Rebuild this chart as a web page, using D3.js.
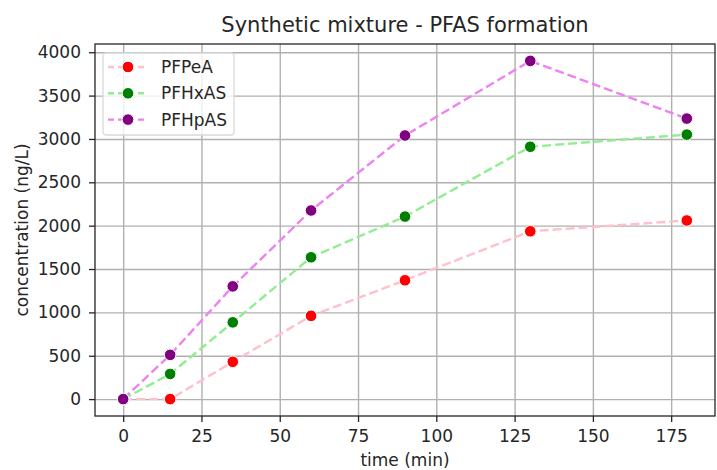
<!DOCTYPE html>
<html>
<head>
<meta charset="utf-8" />
<style>
  body { margin: 0; background: #fff; }
  text { font-family: 'DejaVu Sans', sans-serif; fill: #262626; }
  .grid line { stroke: #b0b0b0; stroke-width: 1.4; }
  .grid path { stroke-width: 0; }
  .axis path, .axis line { stroke: #262626; stroke-width: 1.3; }
  .axis text { font-size: 17px; fill: #262626; }
</style>
</head>
<body>
<div id="chart"></div>
<script src="https://d3js.org/d3.v7.min.js"></script>
<script>
// data
var times = [0, 15, 35, 60, 90, 130, 180];
var pfpea  = [0, 0, 430, 960, 1370, 1935, 2060];
var pfhxas = [0, 290, 885, 1635, 2105, 2910, 3050];
var pfhpas = [0, 510, 1300, 2175, 3040, 3900, 3235];
var xTicks = [0, 25, 50, 75, 100, 125, 150, 175];
var yTicks = [0, 500, 1000, 1500, 2000, 2500, 3000, 3500, 4000];

var series = [
  {name: 'PFPeA',  values: pfpea,  line: '#ffc0cb', dot: '#ff0000'},
  {name: 'PFHxAS', values: pfhxas, line: '#90ee90', dot: '#008000'},
  {name: 'PFHpAS', values: pfhpas, line: '#ee82ee', dot: '#800080'}
];

var W = 717, H = 470;
var margin = {top: 44, right: 2, bottom: 54, left: 95},
    width = W - margin.left - margin.right,
    height = H - margin.top - margin.bottom;

var svg = d3.select('#chart').append('svg')
    .attr('width', W).attr('height', H);
var g = svg.append('g').attr('transform', 'translate(' + margin.left + ',' + margin.top + ')');

var x = d3.scaleLinear().domain([-9, 189]).range([0, width]);
var y = d3.scaleLinear().domain([-195, 4095]).range([height, 0]);

// grid
g.append('g').attr('class', 'grid')
  .attr('transform', 'translate(0,' + height + ')')
  .call(d3.axisBottom(x).tickValues(xTicks).tickSize(-height).tickFormat(''));
g.append('g').attr('class', 'grid')
  .call(d3.axisLeft(y).tickValues(yTicks).tickSize(-width).tickFormat(''));

// lines + markers
var line = d3.line()
  .x(function(d, i) { return x(times[i]); })
  .y(function(d) { return y(d); });

series.forEach(function(s) {
  g.append('path')
    .datum(s.values)
    .attr('fill', 'none')
    .attr('stroke', s.line)
    .attr('stroke-width', 2.4)
    .attr('stroke-dasharray', '9,4')
    .attr('d', line);
});
series.forEach(function(s) {
  g.selectAll(null).data(s.values).enter().append('circle')
    .attr('cx', function(d, i) { return x(times[i]); })
    .attr('cy', function(d) { return y(d); })
    .attr('r', 5.8)
    .attr('fill', s.dot)
    .attr('stroke', '#fff')
    .attr('stroke-width', 1);
});

// axes
var xa = g.append('g').attr('class', 'axis')
  .attr('transform', 'translate(0,' + height + ')')
  .call(d3.axisBottom(x).tickValues(xTicks).tickFormat(d3.format('d'))
    .tickSize(6).tickPadding(8).tickSizeOuter(0));
var ya = g.append('g').attr('class', 'axis')
  .call(d3.axisLeft(y).tickValues(yTicks).tickFormat(d3.format('d'))
    .tickSize(6).tickPadding(8).tickSizeOuter(0));
xa.select('.domain').remove();
ya.select('.domain').remove();
xa.selectAll('text').attr('font-family', null).attr('font-size', null);
ya.selectAll('text').attr('font-family', null).attr('font-size', null);

// spines
g.append('rect').attr('width', width).attr('height', height)
  .attr('fill', 'none').attr('stroke', '#262626').attr('stroke-width', 1.3);

// labels
svg.append('text').attr('x', margin.left + width / 2).attr('y', 32)
  .attr('text-anchor', 'middle').style('font-size', '21px')
  .text('Synthetic mixture - PFAS formation');
svg.append('text').attr('x', margin.left + width / 2).attr('y', 466)
  .attr('text-anchor', 'middle').style('font-size', '17px')
  .text('time (min)');
svg.append('text')
  .attr('transform', 'translate(28,' + (margin.top + height / 2) + ') rotate(-90)')
  .attr('text-anchor', 'middle').style('font-size', '17px')
  .text('concentration (ng/L)');

// legend
var lg = g.append('g').attr('transform', 'translate(8,9)');
lg.append('rect').attr('width', 131).attr('height', 82).attr('rx', 3)
  .attr('fill', '#fff').attr('fill-opacity', 0.8)
  .attr('stroke', '#d9d9d9').attr('stroke-width', 1.3);
series.forEach(function(s, i) {
  var row = lg.append('g').attr('transform', 'translate(0,' + (14 + i * 26.3) + ')');
  row.append('line').attr('x1', 5).attr('x2', 42).attr('y1', 0).attr('y2', 0)
    .attr('stroke', s.line).attr('stroke-width', 2.4).attr('stroke-dasharray', '6,4');
  row.append('circle').attr('cx', 25).attr('cy', 0).attr('r', 5.8)
    .attr('fill', s.dot).attr('stroke', '#fff');
  row.append('text').attr('x', 58).attr('y', 6).style('font-size', '17px').text(s.name);
});
</script>
</body>
</html>
